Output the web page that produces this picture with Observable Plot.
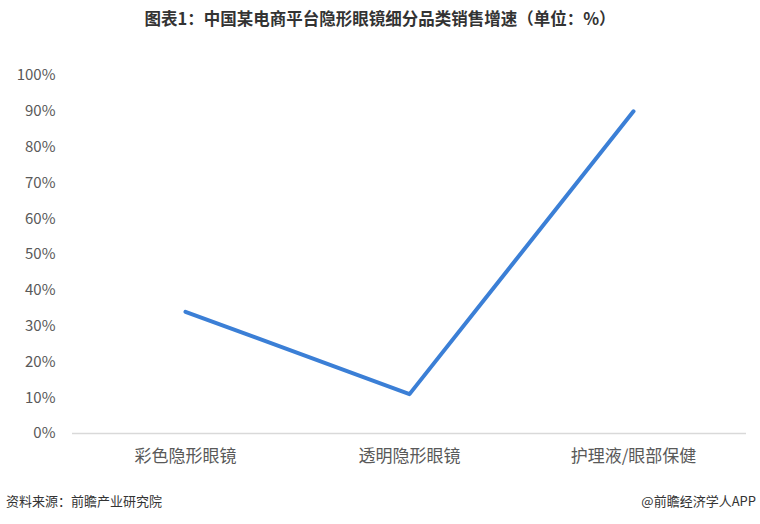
<!DOCTYPE html>
<html><head><meta charset="utf-8">
<script src="https://cdn.jsdelivr.net/npm/d3@7"></script>
<script src="https://cdn.jsdelivr.net/npm/@observablehq/plot@0.6"></script>
<style>
body{margin:0;background:#fff;font-family:"Noto Sans CJK SC","Noto Sans",sans-serif;}
#wrap{position:relative;width:760px;height:524px;overflow:hidden;}
#title{position:absolute;top:7px;left:0;width:760px;text-align:center;font-size:16.5px;font-weight:bold;color:#333;line-height:22px;}
#chart{position:absolute;top:40px;left:0;}
#src{position:absolute;top:491px;left:6px;font-size:13px;color:#333;}
#brand{position:absolute;top:491px;right:4px;font-size:13px;color:#333;}
</style></head>
<body><div id="wrap">
<div id="title">图表1：中国某电商平台隐形眼镜细分品类销售增速（单位：%）</div>
<div id="chart"></div>
<div id="src">资料来源：前瞻产业研究院</div>
<div id="brand">@前瞻经济学人APP</div>
</div>
<script>
const categories = ["彩色隐形眼镜", "透明隐形眼镜", "护理液/眼部保健"];
const growth = [34, 11, 90];
const yTicks = [0,10,20,30,40,50,60,70,80,90,100];

const data = categories.map((c,i)=>({category:c, value:growth[i]}));

const chart = Plot.plot({
  width: 760,
  height: 445,
  marginLeft: 72,
  marginRight: 14,
  marginTop: 35,
  marginBottom: 52,
  style:{fontFamily:'"Noto Sans CJK SC","Noto Sans",sans-serif', background:"#fff"},
  x:{type:"point", domain:categories, padding:0.5, label:null},
  y:{domain:[0,100], label:null},
  marks:[
    Plot.axisY({ticks:yTicks, tickSize:0, tickPadding:17, tickFormat:d=>d+"%", fontSize:15, fill:"#595959", label:null}),
    Plot.axisX({tickSize:0, tickPadding:16, fontSize:17, fill:"#595959", label:null}),
    Plot.ruleY([0], {stroke:"#d9d9d9", strokeWidth:1.5}),
    Plot.line(data, {x:"category", y:"value", stroke:"#3b7fd6", strokeWidth:4, strokeLinecap:"round", strokeLinejoin:"round"})
  ]
});
document.getElementById("chart").appendChild(chart);
</script>
</body></html>
